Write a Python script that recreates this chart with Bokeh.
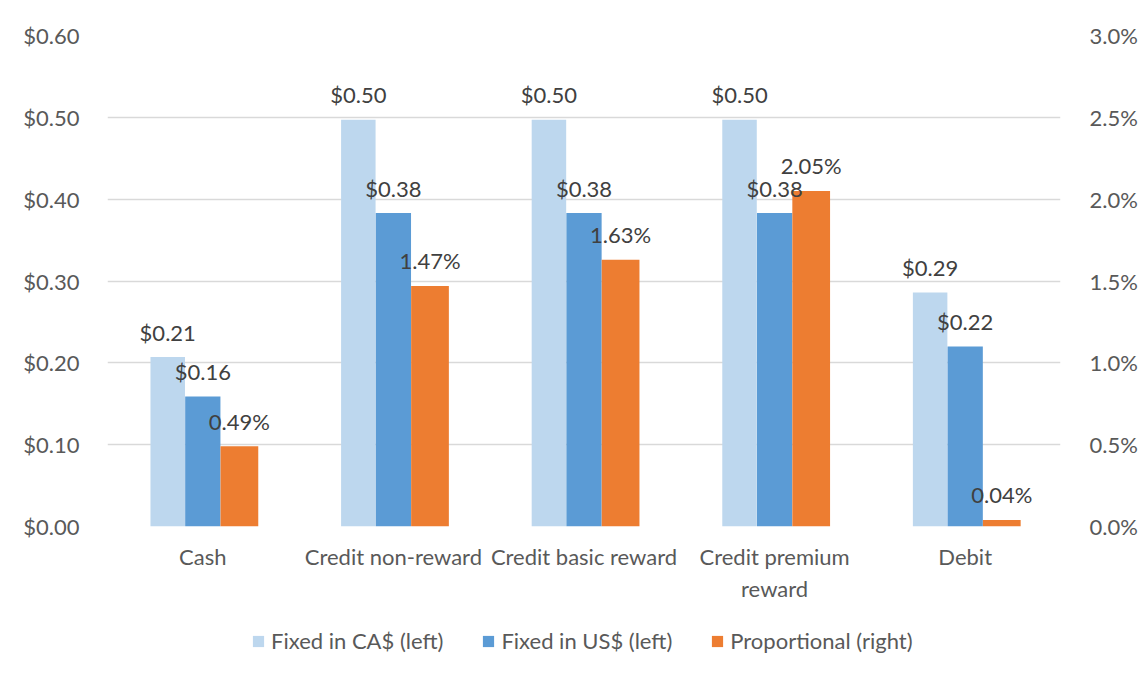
from bokeh.plotting import figure
from bokeh.layouts import column
from bokeh.models import (ColumnDataSource, Range1d, LinearAxis, FixedTicker,
                          NumeralTickFormatter, PrintfTickFormatter, Legend, LegendItem)
from bokeh.core.properties import value
from bokeh.embed import file_html
from bokeh.resources import INLINE

categories = ["Cash", "Credit non-reward", "Credit basic reward", "Credit premium\nreward", "Debit"]
fixed_cad = [0.207, 0.497, 0.497, 0.497, 0.286]
fixed_usd = [0.159, 0.383, 0.383, 0.383, 0.220]
proportional = [0.49, 1.47, 1.63, 2.05, 0.04]   # percent
left_ticks = [0.0, 0.1, 0.2, 0.3, 0.4, 0.5, 0.6]
right_ticks = [0.0, 0.5, 1.0, 1.5, 2.0, 2.5, 3.0]
series_names = ["Fixed in CA$ (left)", "Fixed in US$ (left)", "Proportional (right)"]

FONT = "Lato"
TXT = "#595959"
LBL = "#404040"
COLORS = ["#BDD7EE", "#5B9BD5", "#ED7D31"]

xc = [i + 0.5 for i in range(len(categories))]
src = ColumnDataSource(dict(
    x1=[x - 0.184 for x in xc], x2=[x + 0.0 for x in xc], x3=[x + 0.192 for x in xc],
    cad=fixed_cad, usd=fixed_usd, prop=proportional,
    cad_t=["${:.2f}".format(v) for v in fixed_cad],
    usd_t=["${:.2f}".format(v) for v in fixed_usd],
    prop_t=["{:.2f}%".format(v) for v in proportional],
))

W = 1140
p = figure(width=W, height=610, output_backend="svg", toolbar_location=None,
           x_range=Range1d(0, len(categories)), y_range=Range1d(0, 0.6),
           min_border_left=107, min_border_right=68, min_border_top=35, min_border_bottom=84)
p.extra_y_ranges = {"right": Range1d(0, 3.0)}
p.outline_line_color = None
p.background_fill_color = "white"
p.border_fill_color = "white"

p.vbar(x="x1", top="cad", width=0.181, source=src, fill_color=COLORS[0], line_color=None)
p.vbar(x="x2", top="usd", width=0.185, source=src, fill_color=COLORS[1], line_color=None)
p.vbar(x="x3", top="prop", width=0.198, source=src, fill_color=COLORS[2], line_color=None,
       y_range_name="right")

common = dict(source=src, text_font=value(FONT), text_font_size="22px", text_color=LBL,
              text_align="center", text_baseline="alphabetic", y_offset=-25)
p.text(x="x1", y="cad", text="cad_t", **common)
p.text(x="x2", y="usd", text="usd_t", **common)
p.text(x="x3", y="prop", text="prop_t", y_range_name="right", **common)

# axes
p.xaxis.ticker = FixedTicker(ticks=xc)
p.xaxis.major_label_overrides = {x: c for x, c in zip(xc, categories)}
p.yaxis.ticker = FixedTicker(ticks=left_ticks)
p.yaxis.formatter = NumeralTickFormatter(format="$0.00")
ra = LinearAxis(y_range_name="right", ticker=FixedTicker(ticks=right_ticks),
                formatter=PrintfTickFormatter(format="%.1f%%"))
p.add_layout(ra, "right")
for ax in [p.xaxis[0], p.yaxis[0], ra]:
    ax.axis_line_color = None
    ax.major_tick_line_color = None
    ax.minor_tick_line_color = None
    ax.major_label_text_font = FONT
    ax.major_label_text_font_size = "22px"
    ax.major_label_text_color = TXT
p.xaxis.major_label_standoff = 10
p.yaxis.major_label_standoff = 22
ra.major_label_standoff = 23

p.xgrid.grid_line_color = None
p.ygrid.grid_line_color = "#D9D9D9"
p.ygrid.grid_line_width = 1.3

# legend strip below the chart (its bars lie outside its own y-range, only the legend shows)
lf = figure(width=W, height=56, output_backend="svg", toolbar_location=None,
            x_range=Range1d(0, len(categories)), y_range=Range1d(10, 11),
            x_axis_location=None, y_axis_location=None,
            min_border_left=0, min_border_right=0, min_border_top=0, min_border_bottom=0)
lf.grid.visible = False
lf.outline_line_color = None
lf.border_fill_color = "white"
items = []
for name, col, key, xk in zip(series_names, COLORS, ["cad", "usd", "prop"], ["x1", "x2", "x3"]):
    r = lf.vbar(x=xk, top=key, width=0.18, source=src, fill_color=col, line_color=None)
    items.append(LegendItem(label=name, renderers=[r]))
legend = Legend(items=items, orientation="horizontal", location=(144, 12))
legend.label_text_font = FONT
legend.label_text_font_size = "22px"
legend.label_text_color = TXT
legend.glyph_width = 14
legend.glyph_height = 14
legend.label_standoff = 6
legend.spacing = 38
legend.padding = 4
legend.margin = 0
legend.border_line_color = None
legend.background_fill_alpha = 0
lf.add_layout(legend, "center")

layout = column(p, lf, spacing=0)
open("out.html", "w").write(file_html(layout, INLINE))
